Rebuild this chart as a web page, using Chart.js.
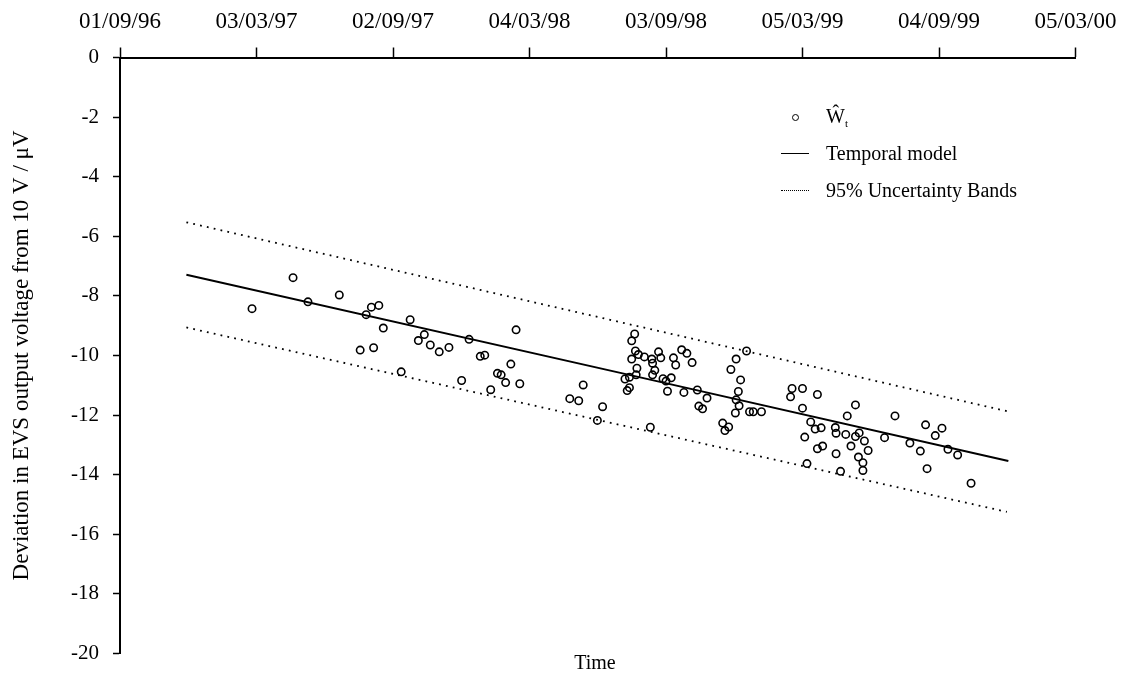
<!DOCTYPE html>
<html lang="en">
<head>
    <meta charset="UTF-8">
    <title>EVS deviation vs time</title>
    <script src="https://cdn.jsdelivr.net/npm/chart.js"></script>
    <style>
        body {
            margin: 0;
            background: #ffffff;
        }
        #wrap {
            position: relative;
            width: 1140px;
            height: 680px;
            font-family: "Liberation Serif", "Times New Roman", serif;
            color: #000;
        }
        .lg {
            position: absolute;
            left: 778px;
            height: 24px;
            display: flex;
            align-items: center;
            font-size: 20px;
            white-space: nowrap;
        }
        .mk {
            width: 34px;
            height: 24px;
            display: flex;
            align-items: center;
            justify-content: center;
            margin-right: 14px;
        }
        .circ {
            width: 5px;
            height: 5px;
            border: 1.6px solid #000;
            border-radius: 50%;
        }
        .solid {
            width: 28px;
            border-top: 1.5px solid #000;
        }
        .dots {
            width: 28px;
            border-top: 1.6px dotted #000;
        }
        .lg sub {
            font-size: 11px;
            vertical-align: -4px;
        }
        #xtitle {
            position: absolute;
            left: 570px;
            top: 651px;
            width: 50px;
            text-align: center;
            font-size: 20px;
        }
    </style>
</head>
<body>
<div id="wrap">
    <canvas id="chart" width="1140" height="680"></canvas>

    <!-- legend -->
    <div class="lg" style="top:105px"><span class="mk"><span class="circ"></span></span><span>Ŵ<sub>t</sub></span></div>
    <div class="lg" style="top:141px"><span class="mk"><span class="solid"></span></span><span>Temporal model</span></div>
    <div class="lg" style="top:178px"><span class="mk"><span class="dots"></span></span><span>95% Uncertainty Bands</span></div>

    <div id="xtitle">Time</div>
</div>

<script>
    // x axis: days since 01/09/96 (labels every 183 days)
    const tickDays = [0, 183, 366, 549, 732, 915, 1098, 1281];
    const tickLabels = ['01/09/96', '03/03/97', '02/09/97', '04/03/98', '03/09/98', '05/03/99', '04/09/99', '05/03/00'];

    // measured deviations (W hat t)
    const wDays = [
        177, 232, 252, 294, 322, 330, 337, 340, 347, 353,
        377, 389, 400, 408, 416, 428, 441, 458, 468, 483,
        489, 497, 506, 511, 517, 524, 531, 536, 603, 615,
        621, 640, 647, 711, 690, 686, 691, 695, 686, 703,
        713, 722, 725, 714, 717, 714, 693, 692, 677, 683,
        683, 680, 728, 732, 739, 734, 742, 745, 753, 760,
        767, 756, 774, 787, 776, 781, 808, 816, 811, 840,
        826, 819, 832, 829, 826, 830, 825, 844, 849, 860,
        901, 899, 915, 935, 915, 926, 932, 940, 918, 959,
        960, 973, 975, 986, 935, 942, 960, 921, 966, 980,
        986, 991, 998, 1003, 990, 996, 996, 1025, 1039, 1059,
        1073, 1080, 1102, 1093, 1110, 1123, 1082, 1141
    ];
    const wValues = [
        -8.43, -7.39, -8.20, -7.97, -9.82, -8.63, -8.38, -9.74, -8.32, -9.08,
        -10.55, -8.80, -9.50, -9.30, -9.65, -9.88, -9.73, -10.84, -9.46, -10.03,
        -9.99, -11.15, -10.60, -10.65, -10.91, -10.29, -9.14, -10.95, -11.45, -11.52,
        -10.99, -12.18, -11.72, -12.41, -9.28, -9.51, -9.85, -9.97, -10.12, -10.05,
        -10.12, -9.88, -10.08, -10.26, -10.50, -10.65, -10.43, -10.65, -10.79, -10.73,
        -11.08, -11.18, -10.78, -10.86, -10.75, -11.20, -10.08, -10.32, -9.81, -9.93,
        -10.24, -11.24, -11.16, -11.43, -11.70, -11.79, -12.27, -12.40, -12.52, -9.85,
        -10.12, -10.47, -10.82, -11.21, -11.49, -11.69, -11.93, -11.89, -11.89, -11.89,
        -11.11, -11.39, -11.11, -11.31, -11.77, -12.23, -12.47, -12.43, -12.74, -12.42,
        -12.61, -12.65, -12.03, -11.66, -13.13, -13.04, -13.30, -13.63, -13.89, -13.04,
        -12.72, -12.60, -12.87, -13.19, -13.41, -13.60, -13.86, -12.76, -12.03, -12.94,
        -13.21, -12.33, -12.44, -12.69, -13.15, -13.34, -13.80, -14.29
    ];

    // temporal model and 95% bands
    const modelDays = [89, 693, 1191];
    const modelValues = [-7.29, -10.71, -13.54];
    const bandDays = [89, 1189];
    const upperValues = [-5.53, -11.87];
    const lowerValues = [-9.06, -15.25];

    const toXY = (xs, ys) => xs.map((x, i) => ({ x: x, y: ys[i] }));
    const serif = '"Liberation Serif", "Times New Roman", serif';

    new Chart(document.getElementById('chart'), {
        type: 'scatter',
        data: {
            datasets: [
                {
                    label: 'W',
                    data: toXY(wDays, wValues),
                    pointStyle: 'circle',
                    pointRadius: 3.7,
                    pointBorderWidth: 1.6,
                    borderColor: '#000',
                    backgroundColor: 'rgba(0,0,0,0)',
                    showLine: false
                },
                {
                    label: 'Temporal model',
                    data: toXY(modelDays, modelValues),
                    showLine: true,
                    borderColor: '#000',
                    borderWidth: 2,
                    pointRadius: 0
                },
                {
                    label: 'upper',
                    data: toXY(bandDays, upperValues),
                    showLine: true,
                    borderColor: '#000',
                    borderWidth: 1.8,
                    borderDash: [1.8, 5.2],
                    pointRadius: 0
                },
                {
                    label: 'lower',
                    data: toXY(bandDays, lowerValues),
                    showLine: true,
                    borderColor: '#000',
                    borderWidth: 1.8,
                    borderDash: [1.8, 5.2],
                    pointRadius: 0
                }
            ]
        },
        options: {
            responsive: false,
            animation: false,
            layout: { padding: { left: 0, top: 0, right: 64.5, bottom: 17 } },
            plugins: {
                legend: { display: false },
                tooltip: { enabled: false }
            },
            scales: {
                x: {
                    type: 'linear',
                    position: 'top',
                    min: 0,
                    max: 1281,
                    afterFit: s => { s.height = 57.5; },
                    afterBuildTicks: s => { s.ticks = tickDays.map(v => ({ value: v })); },
                    ticks: {
                        padding: 12,
                        maxRotation: 0,
                        autoSkip: false,
                        color: '#000',
                        font: { family: serif, size: 23 },
                        callback: v => tickLabels[tickDays.indexOf(v)]
                    },
                    grid: {
                        drawOnChartArea: false,
                        tickLength: 10,
                        tickColor: '#000',
                        tickWidth: 1.5
                    },
                    border: { color: '#000', width: 2 }
                },
                y: {
                    min: -20,
                    max: 0,
                    afterFit: s => { s.width = 120; },
                    ticks: {
                        stepSize: 2,
                        padding: 14,
                        color: '#000',
                        font: { family: serif, size: 21 }
                    },
                    grid: {
                        drawOnChartArea: false,
                        tickLength: 7,
                        tickColor: '#000',
                        tickWidth: 1.5
                    },
                    border: { color: '#000', width: 2 },
                    title: {
                        display: true,
                        text: 'Deviation in EVS output voltage from 10 V / μV',
                        color: '#000',
                        font: { family: serif, size: 23 },
                        padding: { top: 8, bottom: 0 }
                    }
                }
            }
        }
    });
</script>
</body>
</html>
